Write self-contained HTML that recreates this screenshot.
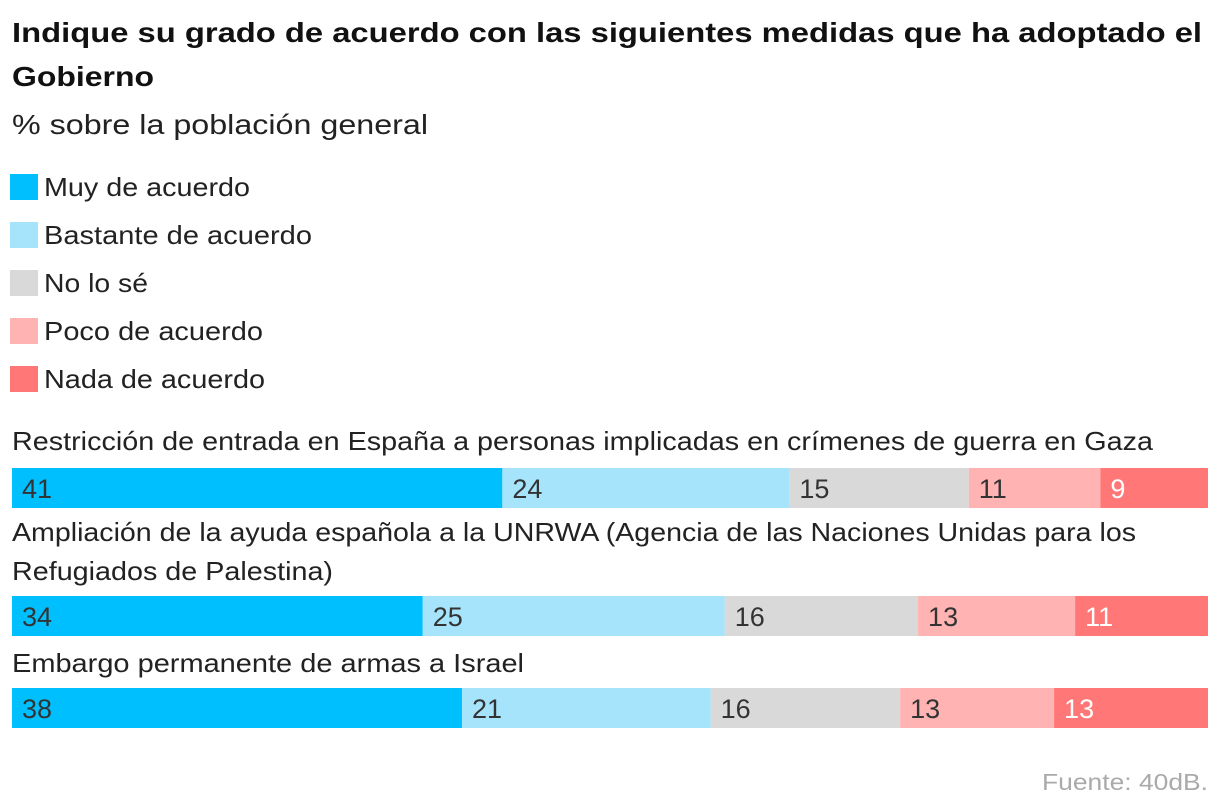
<!DOCTYPE html>
<html><head><meta charset="utf-8"><style>
body{margin:0;background:#fff;}
svg{display:block;font-family:"Liberation Sans",sans-serif;}
</style></head><body>
<svg id="chart" width="1220" height="812">
<text x="12" y="42" font-size="28" font-weight="bold" fill="#111" textLength="1190" lengthAdjust="spacingAndGlyphs">Indique su grado de acuerdo con las siguientes medidas que ha adoptado el</text>
<text x="12" y="86" font-size="28" font-weight="bold" fill="#111" textLength="142" lengthAdjust="spacingAndGlyphs">Gobierno</text>
<text x="12" y="134" font-size="28" fill="#222" textLength="416" lengthAdjust="spacingAndGlyphs">% sobre la población general</text>
<g id="legend"></g>
<g id="rows"></g>
<text x="1208" y="790" font-size="23" fill="#aaa" text-anchor="end" textLength="166" lengthAdjust="spacingAndGlyphs">Fuente: 40dB.</text>
</svg>
<script>
const categories = ["Muy de acuerdo","Bastante de acuerdo","No lo sé","Poco de acuerdo","Nada de acuerdo"];
const questions = ["Restricción de entrada en España a personas implicadas en crímenes de guerra en Gaza","Ampliación de la ayuda española a la UNRWA (Agencia de las Naciones Unidas para los|Refugiados de Palestina)","Embargo permanente de armas a Israel"];
const row1 = [41,24,15,11,9];
const row2 = [34,25,16,13,11];
const row3 = [38,21,16,13,13];
const values = [row1,row2,row3];
const colors = ["#00BFFF","#A6E4FB","#D9D9D9","#FFB3B3","#FF7777"];
const labelColors = ["#333","#333","#333","#333","#fff"];
const legendTextLen = [206,268,104,219,221];
const rowTextLen = [[1141],[1124,321],[512]];
const NS="http://www.w3.org/2000/svg";
function mk(t,a,p){const e=document.createElementNS(NS,t);for(const k in a)e.setAttribute(k,a[k]);p.appendChild(e);return e;}
const leg=document.getElementById('legend');
categories.forEach((c,i)=>{
  const y=174+i*48;
  const r=mk('rect',{x:10,y:y,width:28,height:26,fill:colors[i]},leg);
  
  
  const t=mk('text',{x:44,y:y+22,'font-size':26,fill:'#222',textLength:legendTextLen[i],lengthAdjust:'spacingAndGlyphs'},leg);
  t.textContent=c;
  
  
});
const X0=12,W=1196;
const barY=[468,596,688];
const labY=[[450],[541,580],[672]];
const rows=document.getElementById('rows');
values.forEach((vals,r)=>{
  const lines=questions[r].split('|');
  lines.forEach((l,j)=>{
    const t=mk('text',{x:12,y:labY[r][j],'font-size':26,fill:'#222',textLength:rowTextLen[r][j],lengthAdjust:'spacingAndGlyphs'},rows);
    t.textContent=l;
    
    
  });
  const tot=vals.reduce((a,b)=>a+b,0);
  let cum=0;
  vals.forEach((v,i)=>{
    const x=X0+cum/tot*W, w=v/tot*W;
    const b=mk('rect',{x:x,y:barY[r],width:w,height:40,fill:colors[i]},rows);
    
    
    const t=mk('text',{x:x+10,y:barY[r]+30,'font-size':27,fill:labelColors[i]},rows);
    t.textContent=v;
    
    
    cum+=v;
  });
});
</script>
</body></html>
